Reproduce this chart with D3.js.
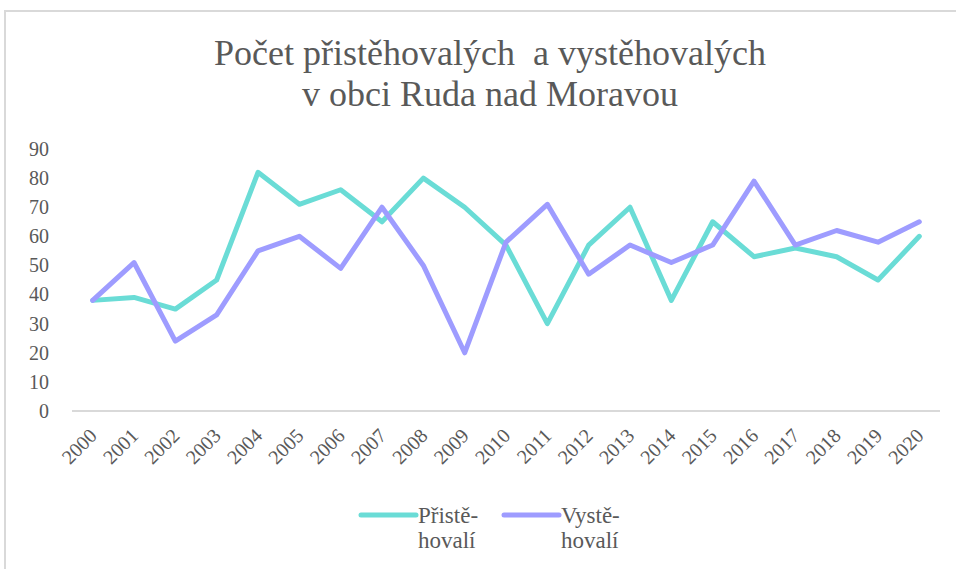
<!DOCTYPE html>
<html>
<head>
<meta charset="utf-8">
<script src="https://cdn.jsdelivr.net/npm/d3@7"></script>
<style>
  body { margin: 0; background: #fff; }
  svg { display: block; }
</style>
</head>
<body>
<div id="chart-area"></div>
<script>
// data
var years = ['2000','2001','2002','2003','2004','2005','2006','2007','2008','2009','2010',
             '2011','2012','2013','2014','2015','2016','2017','2018','2019','2020'];
var prist = [38, 39, 35, 45, 82, 71, 76, 65, 80, 70, 57, 30, 57, 70, 38, 65, 53, 56, 53, 45, 60];
var vyst  = [38, 51, 24, 33, 55, 60, 49, 70, 50, 20, 58, 71, 47, 57, 51, 57, 79, 57, 62, 58, 65];
var yTicks = [0, 10, 20, 30, 40, 50, 60, 70, 80, 90];
var seriesNames = ['Přistě-|hovalí', 'Vystě-|hovalí'];

var def = {
    width: 956,
    height: 569,
    left: 72,
    right: 940,
    top: 149,
    bottom: 411,
    font: "'Liberation Serif'",
    text: '#595959'
};
var colors = ['#6adcd6', '#9e9cff'];

var svg = d3.select('#chart-area').append('svg')
    .attr('width', def.width)
    .attr('height', def.height);

// frame
svg.append('rect')
    .attr('x', 5).attr('y', 11)
    .attr('width', def.width + 10).attr('height', def.height + 10)
    .attr('fill', '#fff')
    .attr('stroke', '#d9d9d9')
    .attr('stroke-width', 2);

// title
var title = svg.append('text')
    .attr('text-anchor', 'middle')
    .style('font-family', def.font)
    .style('font-size', '36px')
    .style('fill', def.text);
title.append('tspan').attr('x', 490).attr('y', 65).text('Počet přistěhovalých\u00a0 a vystěhovalých');
title.append('tspan').attr('x', 490).attr('y', 106).text('v obci Ruda nad Moravou');

var x = d3.scalePoint()
    .domain(years)
    .range([def.left, def.right])
    .padding(0.5);

var y = d3.scaleLinear()
    .domain([0, 90])
    .range([def.bottom, def.top]);

// y axis labels
var yAx = d3.axisLeft(y).tickValues(yTicks).tickSize(0).tickPadding(0);
var yUnit = svg.append('g')
    .attr('transform', 'translate(49,0)')
    .call(yAx);
yUnit.select('.domain').remove();
yUnit.selectAll('text')
    .style('font-family', def.font)
    .style('font-size', '20px')
    .style('fill', def.text);

// x axis
var xAx = d3.axisBottom(x).tickSize(0).tickPadding(0);
var xUnit = svg.append('g')
    .attr('transform', 'translate(0,' + def.bottom + ')')
    .call(xAx);
xUnit.select('.domain')
    .attr('d', 'M' + def.left + ',0H' + def.right)
    .attr('stroke', '#d9d9d9')
    .attr('stroke-width', 2);
xUnit.selectAll('text')
    .style('font-family', def.font)
    .style('font-size', '20px')
    .style('fill', def.text)
    .attr('text-anchor', 'end')
    .attr('dy', 0)
    .attr('y', 0)
    .attr('transform', 'translate(5,26) rotate(-45)');

// lines
var line = d3.line()
    .x((dis, i) => x(years[i]))
    .y(dis => y(dis));

[prist, vyst].forEach((dat, i) => {
    svg.append('path')
        .datum(dat)
        .attr('d', line)
        .attr('fill', 'none')
        .attr('stroke', colors[i])
        .attr('stroke-width', 5)
        .attr('stroke-linejoin', 'round')
        .attr('stroke-linecap', 'round');
});

// legend
var legX = [361, 504];
seriesNames.forEach((name, i) => {
    var row = svg.append('g').attr('transform', 'translate(' + legX[i] + ',515)');
    row.append('line')
        .attr('x1', 0).attr('x2', 55)
        .attr('stroke', colors[i])
        .attr('stroke-width', 5)
        .attr('stroke-linecap', 'round');
    var t = row.append('text')
        .style('font-family', def.font)
        .style('font-size', '23px')
        .style('fill', def.text);
    name.split('|').forEach((part, j) => {
        t.append('tspan').attr('x', 57).attr('y', 8 + j * 25).text(part);
    });
});
</script>
</body>
</html>
